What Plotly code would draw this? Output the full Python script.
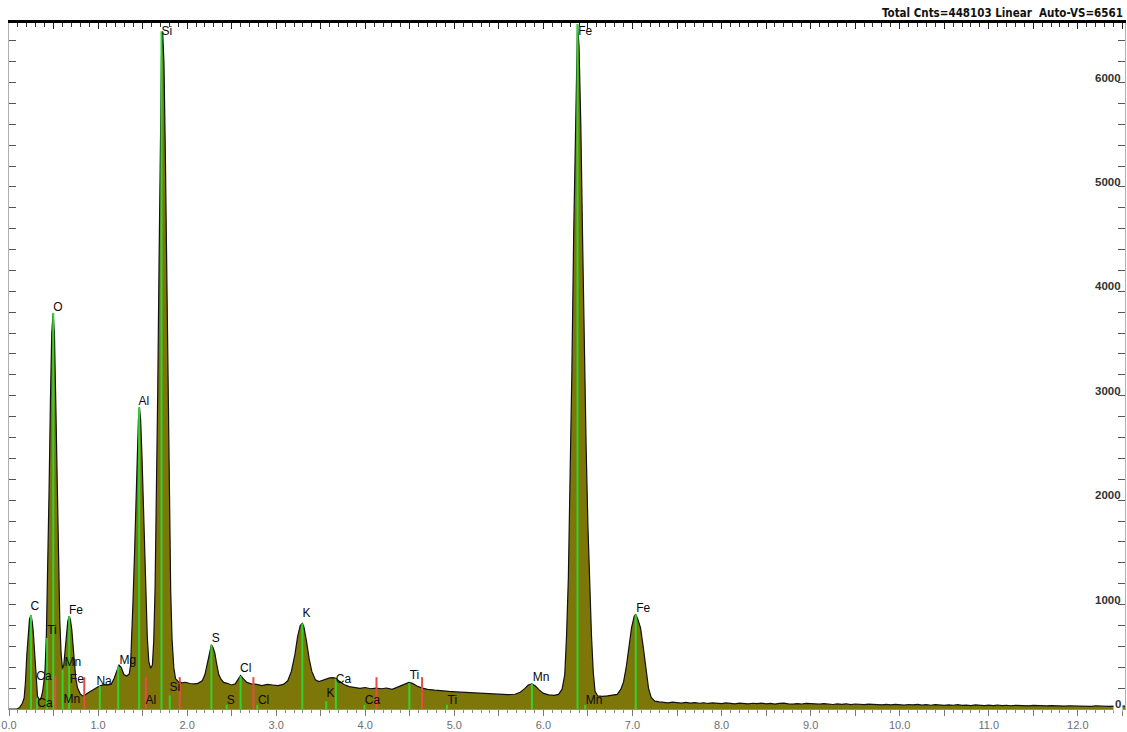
import plotly.graph_objects as go

# EDS spectrum: energy (keV) and counts per channel
spectrum_kev = [
    0.00, 0.09, 0.12, 0.15, 0.17, 0.185, 0.20, 0.215, 0.23, 0.247,
    0.26, 0.272, 0.285, 0.295, 0.308, 0.32, 0.335, 0.35, 0.365, 0.378,
    0.392, 0.405, 0.42, 0.435, 0.45, 0.465, 0.48, 0.495, 0.51, 0.525,
    0.54, 0.555, 0.57, 0.585, 0.60, 0.615, 0.63, 0.645, 0.66, 0.676,
    0.69, 0.705, 0.72, 0.735, 0.75, 0.77, 0.80, 0.826, 0.85, 0.88,
    0.92, 0.96, 1.00, 1.04, 1.07, 1.11, 1.15, 1.18, 1.21, 1.235,
    1.26, 1.29, 1.32, 1.35, 1.365, 1.378, 1.393, 1.408, 1.423, 1.438,
    1.453, 1.464, 1.478, 1.493, 1.508, 1.523, 1.538, 1.553, 1.57, 1.59,
    1.61, 1.625, 1.64, 1.655, 1.67, 1.685, 1.70, 1.712, 1.725, 1.74,
    1.755, 1.77, 1.785, 1.80, 1.815, 1.83, 1.85, 1.87, 1.90, 1.94,
    1.98, 2.03, 2.08, 2.12, 2.17, 2.20, 2.23, 2.255, 2.272, 2.29,
    2.31, 2.33, 2.355, 2.38, 2.41, 2.45, 2.50, 2.54, 2.57, 2.60,
    2.63, 2.67, 2.72, 2.78, 2.84, 2.90, 2.96, 3.02, 3.08, 3.13,
    3.17, 3.21, 3.24, 3.27, 3.293, 3.31, 3.34, 3.37, 3.40, 3.44,
    3.48, 3.52, 3.56, 3.60, 3.64, 3.67, 3.71, 3.76, 3.82, 3.88,
    3.94, 4.00, 4.06, 4.12, 4.18, 4.24, 4.30, 4.35, 4.40, 4.45,
    4.49, 4.53, 4.58, 4.64, 4.70, 4.78, 4.86, 4.94, 5.02, 5.10,
    5.20, 5.30, 5.40, 5.50, 5.60, 5.68, 5.74, 5.79, 5.83, 5.87,
    5.91, 5.95, 6.00, 6.06, 6.12, 6.17, 6.21, 6.24, 6.26, 6.28,
    6.30, 6.32, 6.34, 6.36, 6.383, 6.40, 6.42, 6.44, 6.46, 6.48,
    6.50, 6.52, 6.54, 6.56, 6.58, 6.61, 6.66, 6.72, 6.78, 6.83,
    6.87, 6.90, 6.93, 6.96, 6.99, 7.02, 7.037, 7.06, 7.09, 7.12,
    7.15, 7.18, 7.21, 7.25, 7.30, 7.35, 7.40, 7.45, 7.50, 7.55,
    7.60, 7.65, 7.70, 7.75, 7.80, 7.85, 7.90, 7.95, 8.00, 8.05,
    8.10, 8.15, 8.20, 8.25, 8.30, 8.35, 8.40, 8.45, 8.50, 8.55,
    8.60, 8.65, 8.70, 8.75, 8.80, 8.85, 8.90, 8.95, 9.00, 9.05,
    9.10, 9.15, 9.20, 9.25, 9.30, 9.35, 9.40, 9.45, 9.50, 9.55,
    9.60, 9.65, 9.70, 9.75, 9.80, 9.85, 9.90, 9.95, 10.00, 10.05,
    10.10, 10.15, 10.20, 10.25, 10.30, 10.35, 10.40, 10.45, 10.50, 10.55,
    10.60, 10.65, 10.70, 10.75, 10.80, 10.85, 10.90, 10.95, 11.00, 11.05,
    11.10, 11.15, 11.20, 11.25, 11.30, 11.35, 11.40, 11.45, 11.50, 11.55,
    11.60, 11.65, 11.70, 11.75, 11.80, 11.85, 11.90, 11.95, 12.00, 12.05,
    12.10, 12.15, 12.20, 12.25, 12.30, 12.35, 12.40, 12.45, 12.53,
]
spectrum_counts = [
    0, 0, 15, 55, 105, 260, 520, 730, 860, 900,
    840, 745, 560, 365, 210, 125, 95, 90, 120, 170,
    260, 380, 720, 1300, 2100, 2950, 3600, 3790, 3600, 2950,
    2150, 1400, 850, 530, 390, 420, 540, 710, 840, 890,
    850, 760, 590, 410, 290, 200, 145, 125, 130, 150,
    172, 192, 212, 226, 234, 228, 242, 292, 372, 420,
    398, 330, 316, 335, 420, 650, 1050, 1450, 1950, 2420,
    2770, 2890, 2770, 2420, 1950, 1450, 1000, 680, 450, 390,
    420, 650, 1150, 1950, 3050, 4300, 5450, 6250, 6490, 6180,
    5340, 4190, 2980, 1930, 1150, 680, 400, 290, 262, 250,
    256, 244, 240, 246, 270, 330, 450, 580, 615, 590,
    540, 440, 330, 285, 255, 246, 230, 240, 280, 320,
    290, 255, 240, 236, 224, 236, 230, 224, 236, 270,
    360, 520, 690, 800, 820, 790, 650, 480, 360, 280,
    262, 276, 284, 298, 300, 295, 265, 235, 214, 206,
    198, 206, 194, 200, 194, 201, 189, 205, 225, 245,
    255, 245, 220, 200, 188, 180, 172, 168, 164, 160,
    155, 150, 146, 140, 137, 141, 160, 195, 230, 240,
    220, 185, 150, 135, 130, 140, 190, 330, 700, 1250,
    2100, 3250, 4550, 5700, 6561, 6350, 5600, 4500, 3400, 2500,
    1750, 1200, 700, 350, 170, 125, 120, 126, 130, 140,
    190, 260, 400, 580, 780, 890, 905, 860, 780, 600,
    380, 200, 110, 75, 68, 62, 58, 66, 60, 56,
    63, 57, 61, 55, 60, 53, 58, 56, 52, 58,
    53, 50, 56, 52, 49, 55, 51, 56, 49, 53,
    47, 54, 57, 50, 46, 52, 48, 54, 50, 52,
    46, 51, 47, 43, 49, 45, 50, 42, 48, 44,
    41, 46, 43, 47, 40, 44, 39, 45, 41, 37,
    43, 39, 44, 37, 41, 36, 42, 38, 34, 40,
    36, 41, 35, 38, 33, 39, 35, 32, 37, 33,
    38, 32, 36, 31, 35, 32, 36, 30, 34, 31,
    34, 29, 33, 30, 33, 28, 31, 29, 32, 27,
    30, 26, 31, 27, 29, 25, 28, 26, 27,
]

# KLM marker lines (green: element lines, red: escape / sum positions)
green_kev = [0.247, 0.315, 0.428, 0.497, 0.602, 0.676, 1.020, 1.226, 1.461, 1.712,
             1.805, 2.272, 2.444, 2.600, 2.788, 3.293, 3.562, 3.670, 3.991, 4.495,
             4.918, 5.871, 6.383, 6.469, 7.037]
green_top = [900, 105, 680, 3790, 375, 890, 220, 410, 2890, 6490,
             130, 615, 40, 315, 40, 820, 75, 290, 40, 250,
             40, 240, 6561, 40, 905]
red_kev = [0.519, 0.845, 1.536, 1.917, 2.744, 4.126, 4.638]
red_top = [315, 305, 305, 305, 305, 305, 305]

# Element labels
label_text = ["Si", "Fe", "O", "Al", "C", "Ti", "Fe", "Mn", "Ca", "Fe",
              "Ca", "Mn", "Na", "Mg", "Al", "Si", "S", "S", "Cl", "Cl",
              "K", "K", "Ca", "Ca", "Ti", "Ti", "Mn", "Mn", "Fe"]
label_kev = [1.771, 6.47, 0.549, 1.513, 0.291, 0.482, 0.751, 0.717, 0.392, 0.762,
             0.404, 0.706, 1.068, 1.334, 1.592, 1.861, 2.321, 2.489, 2.657, 2.859,
             3.341, 3.61, 3.756, 4.081, 4.552, 4.978, 5.975, 6.57, 7.12]
label_counts = [6480, 6480, 3843, 2944, 975, 746, 937, 440, 306, 277,
                48, 86, 258, 459, 76, 200, 669, 76, 382, 76,
                908, 143, 277, 76, 315, 76, 296, 76, 956]

kev_tick_labels = ["0.0", "1.0", "2.0", "3.0", "4.0", "5.0", "6.0",
                   "7.0", "8.0", "9.0", "10.0", "11.0", "12.0"]
count_tick_labels = ["0", "1000", "2000", "3000", "4000", "5000", "6000"]
header_text = "Total Cnts=448103 Linear  Auto-VS=6561"

X_MAX = 12.53
Y_MAX = 6570

half_ticks = [i * 0.5 for i in range(2 * len(kev_tick_labels))]
half_text = []
for i in range(len(half_ticks)):
    half_text.append(kev_tick_labels[i // 2] if i % 2 == 0 else "")
count_ticks = list(range(0, 6600, 200))


def vlines(xs, tops):
    px, py = [], []
    for e, h in zip(xs, tops):
        px += [e, e, None]
        py += [0, h, None]
    return px, py


fig = go.Figure()

fig.add_trace(go.Scatter(
    x=spectrum_kev, y=spectrum_counts, mode="lines",
    fill="tozeroy", fillcolor="#7d770a",
    line=dict(color="#111111", width=1.2),
    hoverinfo="skip",
))

gx, gy = vlines(green_kev, green_top)
fig.add_trace(go.Scatter(x=gx, y=gy, mode="lines",
                         line=dict(color="#2fd42f", width=2), hoverinfo="skip"))
rx, ry = vlines(red_kev, red_top)
fig.add_trace(go.Scatter(x=rx, y=ry, mode="lines",
                         line=dict(color="#e84a44", width=2), hoverinfo="skip"))

fig.add_trace(go.Scatter(
    x=label_kev, y=label_counts, mode="text", text=label_text,
    textposition="middle center",
    textfont=dict(family="Liberation Sans, Arial", size=12, color="#0a0a0a"),
    cliponaxis=False, hoverinfo="skip",
))

# top ruler axis
fig.add_trace(go.Scatter(x=[0], y=[0], xaxis="x2", mode="markers",
                         marker=dict(opacity=0), hoverinfo="skip"))

fig.update_layout(
    width=1127, height=732,
    margin=dict(l=8, r=1, t=23, b=21),
    plot_bgcolor="white", paper_bgcolor="white",
    showlegend=False,
    xaxis=dict(
        range=[0, X_MAX], showgrid=False, zeroline=False,
        showline=True, linecolor="#8c8c8c", linewidth=1,
        tickmode="array", tickvals=half_ticks, ticktext=half_text,
        ticks="outside", ticklen=6, tickcolor="#7a7a7a",
        minor=dict(tickmode="linear", tick0=0, dtick=0.1, ticks="outside",
                   ticklen=3, tickcolor="#8a8a8a"),
        tickfont=dict(family="Liberation Sans, Arial", size=11, color="#6e6e6e"),
    ),
    xaxis2=dict(
        overlaying="x", side="top", matches="x", range=[0, X_MAX],
        showgrid=False, zeroline=False,
        showline=True, linecolor="#000000", linewidth=3,
        tickmode="array", tickvals=half_ticks, showticklabels=False,
        ticks="inside", ticklen=6, tickcolor="#222222",
        minor=dict(tickmode="linear", tick0=0, dtick=0.1, ticks="inside",
                   ticklen=4, tickcolor="#333333"),
    ),
    yaxis=dict(
        range=[0, Y_MAX], showgrid=False, zeroline=False,
        showline=True, linecolor="#b0b0b0", linewidth=1, mirror="ticks",
        tickmode="array", tickvals=count_ticks, showticklabels=False,
        ticks="inside", ticklen=7, tickcolor="#555555",
    ),
)

for lbl in count_tick_labels:
    v = int(lbl)
    fig.add_annotation(
        xref="paper", x=1, xanchor="right", xshift=-2,
        yref="y", y=v, yanchor="bottom", yshift=-3,
        text="<b>%s</b>" % lbl, showarrow=False,
        font=dict(family="Liberation Sans, Arial", size=11.5, color="#333333"),
        bgcolor="white" if v == 0 else None,
    )

fig.add_annotation(
    xref="paper", x=1, xanchor="right", xshift=0,
    yref="paper", y=1, yanchor="bottom", yshift=1,
    text="<b>%s</b>" % header_text, showarrow=False,
    font=dict(family="Liberation Sans Narrow, DejaVu Sans Condensed, Arial",
              size=11.5, color="#111111"),
)

fig.write_html("out.html")
